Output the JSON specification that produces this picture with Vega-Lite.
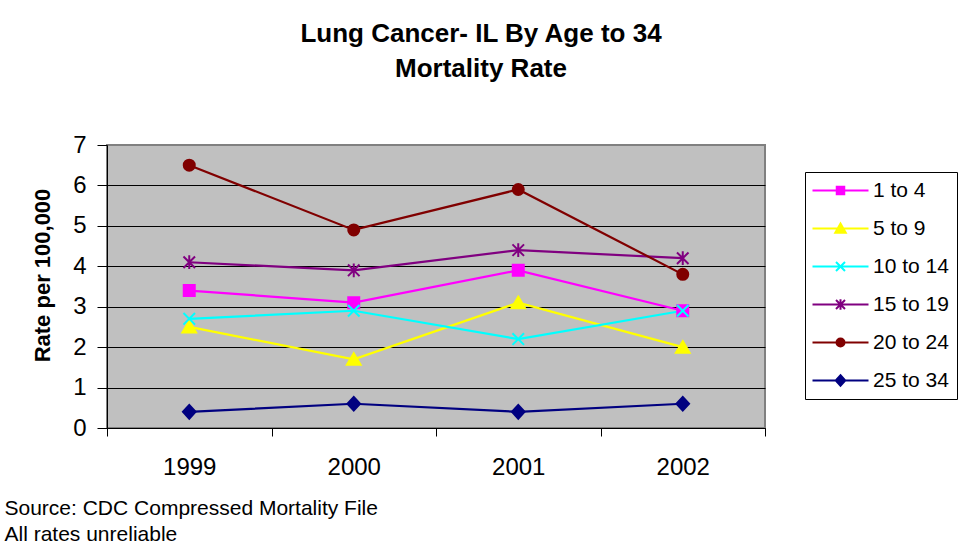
{
  "$schema": "https://vega.github.io/schema/vega-lite/v6.json",
  "width": 658,
  "height": 283,
  "autosize": {"type": "none"},
  "padding": {"left": 107, "top": 145, "right": 199, "bottom": 131},
  "background": "white",
  "config": {
    "font": "Liberation Sans",
    "view": {"fill": "#C0C0C0", "stroke": "#808080", "strokeWidth": 2},
    "legend": {
      "orient": "none",
      "legendX": 698,
      "legendY": 27,
      "strokeColor": "black",
      "fillColor": "white",
      "padding": 8,
      "labelFontSize": 21,
      "labelColor": "black",
      "labelLimit": 200,
      "symbolSize": 100,
      "symbolStrokeWidth": 2,
      "symbolOffset": 17,
      "labelOffset": 22,
      "rowPadding": 16
    }
  },
  "title": {
    "text": ["Lung Cancer- IL By Age to 34", "Mortality Rate"],
    "fontSize": 26,
    "fontWeight": "bold",
    "color": "black",
    "anchor": "middle",
    "frame": "group",
    "dx": 45,
    "lineHeight": 35,
    "offset": 51
  },
  "data": {
    "values": [
      {"age": "1 to 4", "year": 1999, "rate": 3.4},
      {"age": "1 to 4", "year": 2000, "rate": 3.1},
      {"age": "1 to 4", "year": 2001, "rate": 3.9},
      {"age": "1 to 4", "year": 2002, "rate": 2.9},
      {"age": "5 to 9", "year": 1999, "rate": 2.5},
      {"age": "5 to 9", "year": 2000, "rate": 1.7},
      {"age": "5 to 9", "year": 2001, "rate": 3.1},
      {"age": "5 to 9", "year": 2002, "rate": 2.0},
      {"age": "10 to 14", "year": 1999, "rate": 2.7},
      {"age": "10 to 14", "year": 2000, "rate": 2.9},
      {"age": "10 to 14", "year": 2001, "rate": 2.2},
      {"age": "10 to 14", "year": 2002, "rate": 2.9},
      {"age": "15 to 19", "year": 1999, "rate": 4.1},
      {"age": "15 to 19", "year": 2000, "rate": 3.9},
      {"age": "15 to 19", "year": 2001, "rate": 4.4},
      {"age": "15 to 19", "year": 2002, "rate": 4.2},
      {"age": "20 to 24", "year": 1999, "rate": 6.5},
      {"age": "20 to 24", "year": 2000, "rate": 4.9},
      {"age": "20 to 24", "year": 2001, "rate": 5.9},
      {"age": "20 to 24", "year": 2002, "rate": 3.8},
      {"age": "25 to 34", "year": 1999, "rate": 0.4},
      {"age": "25 to 34", "year": 2000, "rate": 0.6},
      {"age": "25 to 34", "year": 2001, "rate": 0.4},
      {"age": "25 to 34", "year": 2002, "rate": 0.6}
    ]
  },
  "encoding": {
    "x": {
      "field": "year",
      "type": "ordinal",
      "bandPosition": 0.5,
      "scale": {"type": "band", "paddingInner": 0, "paddingOuter": 0},
      "axis": {
        "labelAngle": 0,
        "labelFontSize": 24,
        "labelColor": "black",
        "labelPadding": 19,
        "tickSize": 8,
        "tickColor": "black",
        "domainColor": "black",
        "tickBand": "extent",
        "grid": false,
        "title": ["Source: CDC Compressed Mortality File", "All rates unreliable"],
        "titleFontSize": 21,
        "titleFontWeight": "normal",
        "titleColor": "black",
        "titleAlign": "left",
        "titleAnchor": "start",
        "titleX": -103,
        "titleY": 86,
        "titleBaseline": "alphabetic",
        "titleLineHeight": 26
      }
    },
    "y": {
      "field": "rate",
      "type": "quantitative",
      "scale": {"domain": [0, 7], "nice": false},
      "axis": {
        "values": [0, 1, 2, 3, 4, 5, 6, 7],
        "labelFontSize": 24,
        "labelColor": "black",
        "labelPadding": 11,
        "labelFlush": false,
        "labelOverlap": false,
        "tickSize": 10,
        "tickColor": "black",
        "domainColor": "black",
        "grid": true,
        "gridOpacity": 1,
        "gridColor": {"condition": {"test": "datum.value === 7", "value": "#808080"}, "value": "black"},
        "title": "Rate per 100,000",
        "titleFontSize": 22,
        "titleFontWeight": "bold",
        "titleColor": "black",
        "titleAngle": 270,
        "titleAlign": "center",
        "titleBaseline": "middle",
        "titleX": -65,
        "titleY": 130
      }
    }
  },
  "resolve": {"scale": {"shape": "independent", "fill": "independent", "stroke": "independent"}},
  "layer": [
    {
      "mark": {"type": "line", "strokeWidth": 2.2},
      "encoding": {
        "color": {
          "field": "age",
          "type": "nominal",
          "scale": {
            "domain": ["1 to 4", "5 to 9", "10 to 14", "15 to 19", "20 to 24", "25 to 34"],
            "range": ["#FF00FF", "#FFFF00", "#00FFFF", "#800080", "#800000", "#000080"]
          },
          "legend": null
        }
      }
    },
    {
      "mark": {"type": "point", "filled": true, "size": 121, "strokeWidth": 2, "opacity": 1},
      "encoding": {
        "color": {
          "field": "age",
          "type": "nominal",
          "scale": {
            "domain": ["1 to 4", "5 to 9", "10 to 14", "15 to 19", "20 to 24", "25 to 34"],
            "range": ["#FF00FF", "#FFFF00", "#00FFFF", "#800080", "#800000", "#000080"]
          },
          "legend": null
        },
        "stroke": {
          "field": "age",
          "type": "nominal",
          "scale": {
            "domain": ["1 to 4", "5 to 9", "10 to 14", "15 to 19", "20 to 24", "25 to 34"],
            "range": ["#FF00FF", "#FFFF00", "#00FFFF", "#800080", "#800000", "#000080"]
          },
          "legend": null
        },
        "shape": {
          "field": "age",
          "type": "nominal",
          "scale": {
            "domain": ["1 to 4", "5 to 9", "10 to 14", "15 to 19", "20 to 24", "25 to 34"],
            "range": [
              "M-1,-1H1V1H-1Z",
              "M0,-1.1L1.25,1H-1.25Z",
              "M-1.05,-1.05L1.05,1.05M1.05,-1.05L-1.05,1.05",
              "M-1.05,-1.05L1.05,1.05M1.05,-1.05L-1.05,1.05M0,-1.25V1.25",
              "circle",
              "M0,-1.25L1.15,0L0,1.25L-1.15,0Z"
            ]
          },
          "legend": null
        }
      }
    },
    {
      "transform": [{"filter": "false"}],
      "mark": {"type": "point", "filled": true, "strokeWidth": 2, "opacity": 1},
      "encoding": {
        "fill": {
          "field": "age",
          "type": "nominal",
          "scale": {
            "domain": ["1 to 4", "5 to 9", "10 to 14", "15 to 19", "20 to 24", "25 to 34"],
            "range": ["#FF00FF", "#FFFF00", "#00FFFF", "#800080", "#800000", "#000080"]
          },
          "legend": {"title": null}
        },
        "stroke": {
          "field": "age",
          "type": "nominal",
          "scale": {
            "domain": ["1 to 4", "5 to 9", "10 to 14", "15 to 19", "20 to 24", "25 to 34"],
            "range": ["#FF00FF", "#FFFF00", "#00FFFF", "#800080", "#800000", "#000080"]
          },
          "legend": {"title": null}
        },
        "shape": {
          "field": "age",
          "type": "nominal",
          "scale": {
            "domain": ["1 to 4", "5 to 9", "10 to 14", "15 to 19", "20 to 24", "25 to 34"],
            "range": [
              "M-5.6,0H5.6M-0.75,-0.75H0.75V0.75H-0.75Z",
              "M-5.6,0H5.6M0,-1L1.05,0.85H-1.05Z",
              "M-5.6,0H5.6M-0.9,-0.9L0.9,0.9M0.9,-0.9L-0.9,0.9",
              "M-5.6,0H5.6M-0.9,-0.9L0.9,0.9M0.9,-0.9L-0.9,0.9M0,-1.05V1.05",
              "M-5.6,0H5.6M-0.8,0A0.8,0.8,0,1,0,0.8,0A0.8,0.8,0,1,0,-0.8,0Z",
              "M-5.6,0H5.6M0,-1.05L0.95,0L0,1.05L-0.95,0Z"
            ]
          },
          "legend": {"title": null}
        }
      }
    }
  ]
}
